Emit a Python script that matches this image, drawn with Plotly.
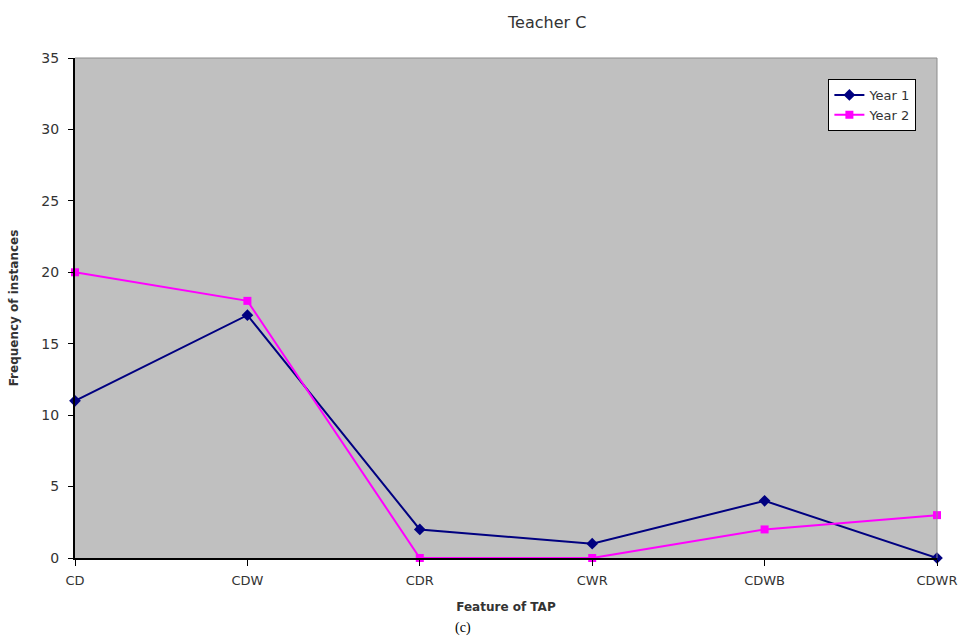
import plotly.graph_objects as go

features = ["CD", "CDW", "CDR", "CWR", "CDWB", "CDWR"]
year1 = [11, 17, 2, 1, 4, 0]
year2 = [20, 18, 0, 0, 2, 3]
y_ticks = [0, 5, 10, 15, 20, 25, 30, 35]

font_family = "DejaVu Sans, Verdana, sans-serif"

fig = go.Figure()
fig.add_trace(go.Scatter(
    x=features, y=year1, name="Year 1", mode="lines+markers",
    line=dict(color="#000080", width=2),
    marker=dict(symbol="diamond", size=9, color="#000080"),
    cliponaxis=False,
))
fig.add_trace(go.Scatter(
    x=features, y=year2, name="Year 2", mode="lines+markers",
    line=dict(color="#FF00FF", width=2),
    marker=dict(symbol="square", size=8, color="#FF00FF"),
    cliponaxis=False,
))

fig.update_layout(
    width=969, height=643,
    margin=dict(l=75, r=29, t=58, b=85),
    paper_bgcolor="white",
    plot_bgcolor="#C0C0C0",
    font=dict(family=font_family, size=13, color="#333333"),
    showlegend=True,
    legend=dict(
        x=0.874, y=0.958, xanchor="left", yanchor="top",
        bgcolor="white", bordercolor="black", borderwidth=1,
        font=dict(size=13, color="#333333"),
        tracegroupgap=0, itemwidth=30,
    ),
    xaxis=dict(
        type="category", range=[0, len(features) - 1],
        showgrid=False, zeroline=False,
        showline=True, linecolor="black", linewidth=2,
        ticks="outside", ticklen=6, tickcolor="black", tickwidth=1,
        ticklabelstandoff=3,
        tickfont=dict(size=13, color="#333333"),
        title=dict(text="<b>Feature of TAP</b>", font=dict(size=12, color="#333333"), standoff=16),
    ),
    yaxis=dict(
        range=[0, 35], tickvals=y_ticks,
        showgrid=False, zeroline=False,
        showline=True, linecolor="black", linewidth=2,
        ticks="outside", ticklen=5, tickcolor="black", tickwidth=1,
        ticklabelstandoff=6,
        tickfont=dict(size=14, color="#333333"),
        title=dict(text="<b>Frequency of instances</b>", font=dict(size=12, color="#333333"), standoff=20),
    ),
)

# thin grey border around the top and right of the plot area
fig.add_shape(type="line", xref="paper", yref="paper", x0=0, x1=1, y0=1, y1=1,
              line=dict(color="#8C8C8C", width=1))
fig.add_shape(type="line", xref="paper", yref="paper", x0=1, x1=1, y0=0, y1=1,
              line=dict(color="#8C8C8C", width=1))

fig.add_annotation(text="Teacher C", xref="paper", yref="paper",
                   x=0.547, y=1, yshift=36, yanchor="middle", showarrow=False,
                   font=dict(size=16, color="#333333", family=font_family))
fig.add_annotation(text="(c)", xref="paper", yref="paper",
                   x=0.45, y=0, yshift=-70, yanchor="middle", showarrow=False,
                   font=dict(size=14, color="black", family="Liberation Serif, Times New Roman, serif"))

fig.write_html("out.html")
